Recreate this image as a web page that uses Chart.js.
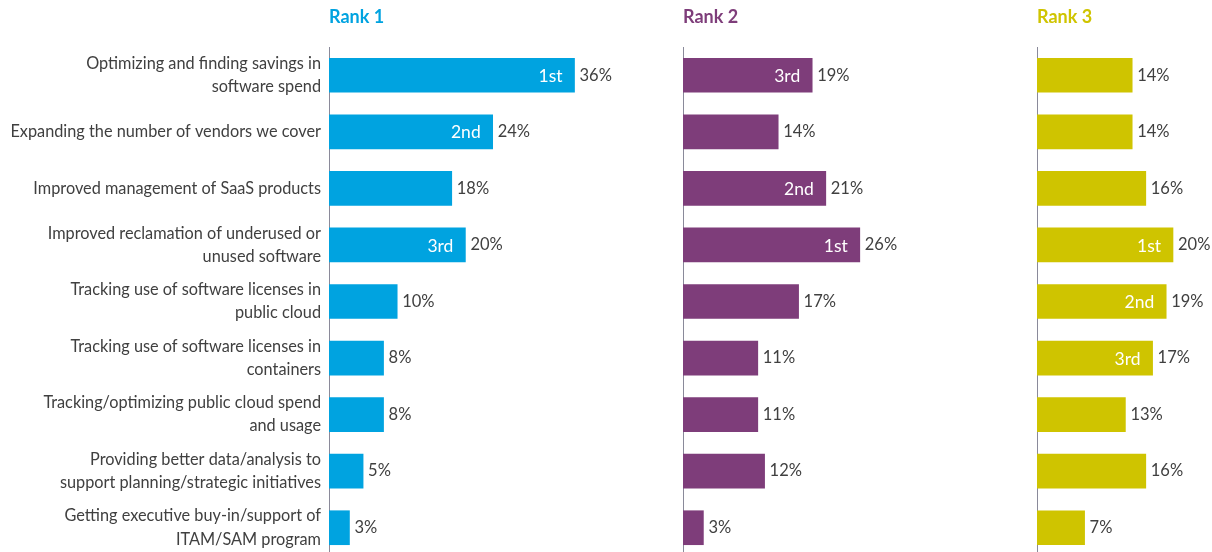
<!DOCTYPE html>
<html>
<head>
<meta charset="utf-8">
<script src="https://cdn.jsdelivr.net/npm/chart.js@4.4.1/dist/chart.umd.min.js"></script>
<style>
  html, body { margin: 0; padding: 0; background: #fff; overflow: hidden; }
  #wrap { position: relative; width: 1212px; height: 552px; overflow: hidden; }
  canvas { position: absolute; top: 0; }
</style>
</head>
<body>
<div id="wrap">
  <canvas id="rank1" width="670" height="556" style="left:0"></canvas>
  <canvas id="rank2" width="340" height="556" style="left:683px"></canvas>
  <canvas id="rank3" width="340" height="556" style="left:1037px"></canvas>
</div>
<script>
const categories = [
    ['Optimizing and finding savings in', 'software spend'],
    'Expanding the number of vendors we cover',
    'Improved management of SaaS products',
    ['Improved reclamation of underused or', 'unused software'],
    ['Tracking use of software licenses in', 'public cloud'],
    ['Tracking use of software licenses in', 'containers'],
    ['Tracking/optimizing public cloud spend', 'and usage'],
    ['Providing better data/analysis to', 'support planning/strategic initiatives'],
    ['Getting executive buy-in/support of', 'ITAM/SAM program']
];
const rank1Values = [36, 24, 18, 20, 10, 8, 8, 5, 3];
const rank2Values = [19, 14, 21, 26, 17, 11, 11, 12, 3];
const rank3Values = [14, 14, 16, 20, 19, 17, 13, 16, 7];
// ranking badge shown inside the bar
const rank1Places = ['1st', '2nd', '', '3rd', '', '', '', '', ''];
const rank2Places = ['3rd', '', '2nd', '1st', '', '', '', '', ''];
const rank3Places = ['', '', '', '1st', '2nd', '3rd', '', '', ''];

const FONT = 'Lato, "Source Sans Pro", sans-serif';
const TEXT = '#404040';

// percent after the bar + white place label inside it
const barLabels = {
    id: 'barLabels',
    afterDatasetsDraw(chart, args, opts) {
        const ctx = chart.ctx;
        const meta = chart.getDatasetMeta(0);
        const values = chart.data.datasets[0].data;
        ctx.save();
        ctx.textBaseline = 'middle';
        meta.data.forEach((bar, i) => {
            ctx.font = '16.5px ' + FONT;
            ctx.fillStyle = TEXT;
            ctx.textAlign = 'left';
            ctx.fillText(values[i] + '%', bar.x + 5, bar.y);
            const place = opts.places[i];
            if (place) {
                ctx.font = '17.5px ' + FONT;
                ctx.fillStyle = '#ffffff';
                ctx.textAlign = 'right';
                ctx.fillText(place, bar.x - 12, bar.y + 1);
            }
        });
        ctx.restore();
    }
};

function makeChart(id, title, values, places, color, withLabels) {
    const ctx = document.getElementById(id).getContext('2d');
    return new Chart(ctx, {
        type: 'bar',
        data: {
            labels: categories,
            datasets: [{
                data: values,
                backgroundColor: color,
                barThickness: 34
            }]
        },
        options: {
            indexAxis: 'y',
            responsive: false,
            animation: false,
            layout: { padding: 0 },
            scales: {
                x: {
                    display: false,
                    min: 0,
                    max: 50
                },
                y: {
                    grid: { display: false, drawTicks: false },
                    border: { display: true, color: '#8a8a9a', width: 1 },
                    ticks: {
                        display: withLabels,
                        color: TEXT,
                        padding: 8,
                        font: { family: FONT, size: 16.3, lineHeight: 1.42 }
                    },
                    afterFit: function(scale) {
                        scale.width = withLabels ? 329 : 0;
                        scale.paddingTop = 0;
                        scale.paddingBottom = 0;
                    }
                }
            },
            plugins: {
                legend: { display: false },
                tooltip: { enabled: false },
                title: {
                    display: true,
                    text: title,
                    align: 'start',
                    fullSize: false,
                    color: color,
                    font: { family: FONT, size: 18, weight: 'bold', lineHeight: 1.2 },
                    padding: { top: 6, bottom: 19.4 }
                },
                barLabels: { places: places }
            }
        },
        plugins: [barLabels]
    });
}

makeChart('rank1', 'Rank 1', rank1Values, rank1Places, '#00a3e0', true);
makeChart('rank2', 'Rank 2', rank2Values, rank2Places, '#7e3d7a', false);
makeChart('rank3', 'Rank 3', rank3Values, rank3Places, '#cfc400', false);
</script>
</body>
</html>
